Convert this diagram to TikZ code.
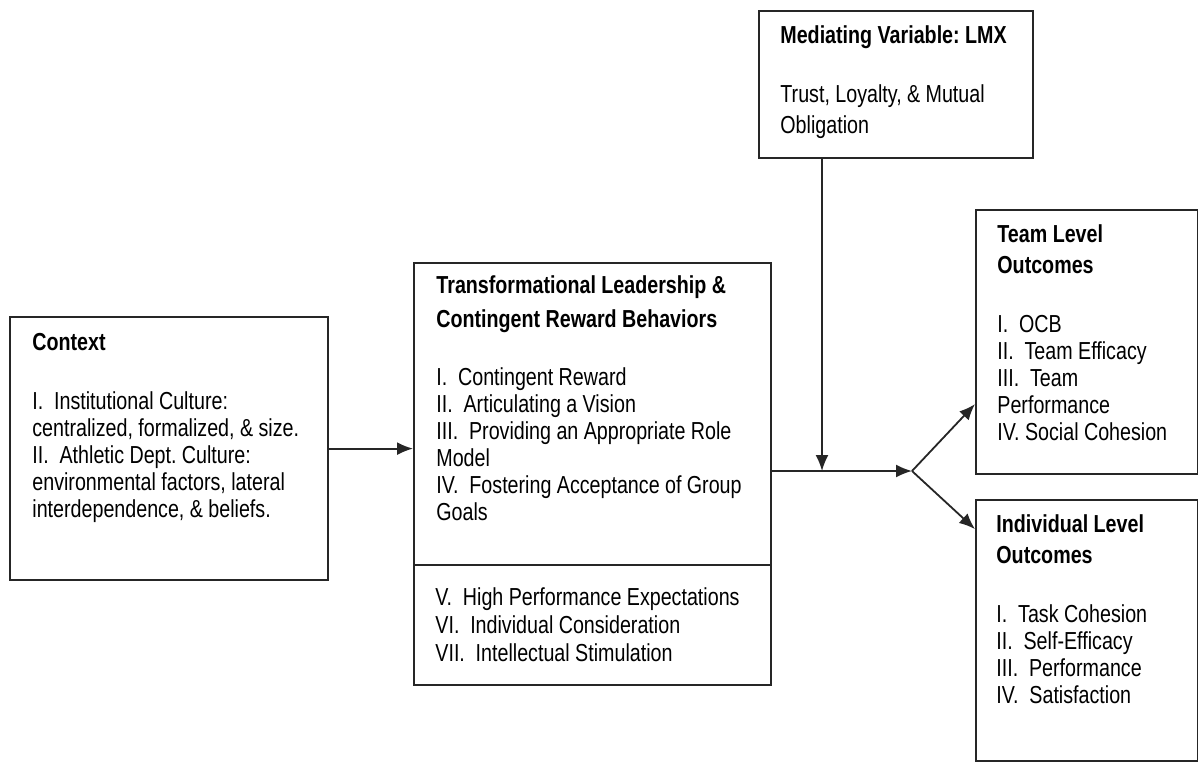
\documentclass[tikz,border=0pt]{standalone}
\usepackage{fontspec}
\setmainfont{Liberation Sans}[FakeStretch=0.80]
\usepackage{tikz}
\usetikzlibrary{positioning}
\usetikzlibrary{arrows.meta}
\frenchspacing
\newcommand{\diagfont}{\fontsize{12.3}{13.5}\selectfont}
\newcommand{\diagspace}{\spaceskip=2.7pt plus 1pt minus 0.5pt\relax}
\tikzset{box/.style={draw=black!85, line width=1.1pt, anchor=north west, inner sep=0pt}}
\tikzset{txt/.style={anchor=base west, inner sep=0pt, text width=170pt, align=left, font=\diagfont, execute at begin node=\diagspace}}
\tikzset{link/.style={draw=black!85, line width=0.9pt, -{Latex[length=8pt,width=6.5pt]}}}

\begin{document}
\begin{tikzpicture}[x=0.5pt,y=-0.5pt]
\useasboundingbox (0,0) rectangle (1198,762);
\node[box, minimum width=159pt, minimum height=131.5pt] (ctx) at (9,316) {};
\node[box, minimum width=178.5pt, minimum height=151pt] (trans) at (413,262) {};
\node[box, minimum width=178.5pt, minimum height=60pt] (transb) at (413,564) {};
\node[box, minimum width=137pt, minimum height=73.5pt] (lmx) at (758,10) {};
\node[box, minimum width=111pt, minimum height=132pt] (team) at (975,209) {};
\node[box, minimum width=111pt, minimum height=130.5pt] (indiv) at (975,499) {};

\node[txt] (ctxtxt) at ([shift={(23,34)}]ctx.north west) {\textbf{Context}\\[16pt]
I.\ \ Institutional Culture:\\ centralized, formalized, \& size.\\ II.\ \ Athletic Dept. Culture:\\ environmental factors, lateral\\ interdependence, \& beliefs.};
\node[txt] (transtxt) at ([shift={(23,31)}]trans.north west) {\textbf{Transformational Leadership \&}\\[3.5pt] \textbf{Contingent Reward Behaviors}\\[15.5pt]
I.\ \ Contingent Reward\\ II.\ \ Articulating a Vision\\ III.\ \ Providing an Appropriate Role\\ Model\\ IV.\ \ Fostering Acceptance of Group\\ Goals};
\node[txt] (transbtxt) at ([shift={(22,41)}]transb.north west) {V.\ \ High Performance Expectations\\[0.7pt] VI.\ \ Individual Consideration\\[0.7pt] VII.\ \ Intellectual Stimulation};
\node[txt] (lmxtxt) at ([shift={(22,33)}]lmx.north west) {\textbf{Mediating Variable: LMX}\\[16pt]
Trust, Loyalty, \& Mutual\\[2pt] Obligation};
\node[txt] (teamtxt) at ([shift={(22,33)}]team.north west) {\textbf{Team Level}\\[2pt] \textbf{Outcomes}\\[16pt]
I.\ \ OCB\\ II.\ \ Team Efficacy\\ III.\ \ Team\\ Performance\\ IV. Social Cohesion};
\node[txt] (indivtxt) at ([shift={(21,33)}]indiv.north west) {\textbf{Individual Level}\\[2pt] \textbf{Outcomes}\\[16pt]
I.\ \ Task Cohesion\\ II.\ \ Self-Efficacy\\ III.\ \ Performance\\ IV.\ \ Satisfaction};

\coordinate (join) at (822,471);
\coordinate (split) at (912,471);
\draw[link] (ctx.east) -- (ctx.east -| trans.west);
\draw[link] (lmx.south -| join) -- (join);
\draw[link] (trans.east |- split) -- (split);
\draw[link] (split) -- ([yshift=-31pt]team.west);
\draw[link] (split) -- ([yshift=50.75pt]indiv.west);
\end{tikzpicture}
\end{document}
